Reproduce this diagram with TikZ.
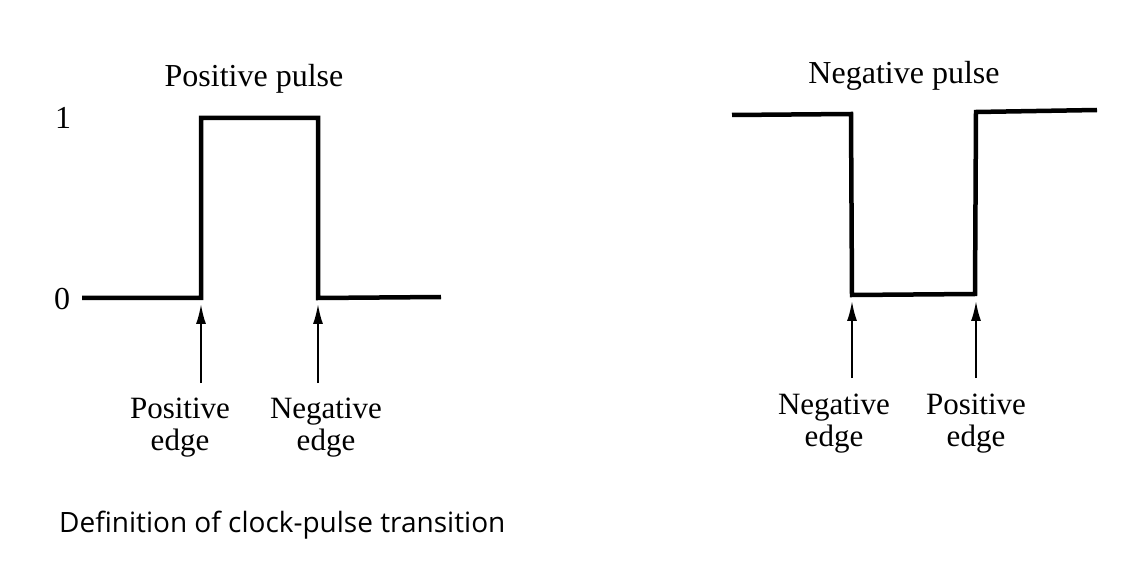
\documentclass[tikz,border=0pt]{standalone}
\usepackage{fontspec}
\setmainfont{Liberation Serif}
\newfontfamily\capfont{Open Sans}
\usetikzlibrary{arrows.meta}
\begin{document}
\begin{tikzpicture}[x=1pt,y=-1pt,
  wave/.style={line width=4.5pt, line join=miter},
  pointer/.style={line width=2pt, -{Latex[length=20pt,width=10pt]}},
  lbl/.style={font=\fontsize{31}{32}\selectfont, align=center, inner sep=0pt},
  ttl/.style={font=\fontsize{32}{32}\selectfont, inner sep=0pt}]
\useasboundingbox (0,0) rectangle (1128,564);
% left pulse
\coordinate (a0) at (82,298);
\coordinate (a1) at (201,298);
\coordinate (a2) at (201,118);
\coordinate (a3) at (318,118);
\coordinate (a4) at (318,298);
\coordinate (a5) at (441,297);
\draw[wave] (a0) -- (a1) -- (a2) -- (a3) -- (a4) -- (a5);
\node[ttl] (tp) at (254,79) {Positive pulse};
\node[ttl] (one) at (63,118) {1};
\node[ttl] (zero) at (62,299) {0};
\coordinate (pa1) at (201,383);
\coordinate (pt1) at (201,304);
\coordinate (pa2) at (318,383);
\coordinate (pt2) at (318,304);
\draw[pointer] (pa1) -- (pt1);
\draw[pointer] (pa2) -- (pt2);
\node[lbl] (l1) at (180,428) {Positive\\edge};
\node[lbl] (l2) at (326,428) {Negative\\edge};
% right pulse
\coordinate (b0) at (732,115);
\coordinate (b1) at (851,114);
\coordinate (b2) at (852,295);
\coordinate (b3) at (975,294);
\coordinate (b4) at (976,112);
\coordinate (b5) at (1097,110);
\draw[wave] (b0) -- (b1) -- (b2) -- (b3) -- (b4) -- (b5);
\node[ttl] (tn) at (904,76) {Negative pulse};
\coordinate (qa1) at (852,378);
\coordinate (qt1) at (852,301);
\coordinate (qa2) at (976,378);
\coordinate (qt2) at (976,301);
\draw[pointer] (qa1) -- (qt1);
\draw[pointer] (qa2) -- (qt2);
\node[lbl] (r1) at (834,424) {Negative\\edge};
\node[lbl] (r2) at (976,424) {Positive\\edge};
% caption
\node[font=\capfont\fontsize{28}{32}\selectfont, anchor=west, inner sep=0pt] (cap) at (59,525) {Definition of clock-pulse transition};
\end{tikzpicture}
\end{document}
